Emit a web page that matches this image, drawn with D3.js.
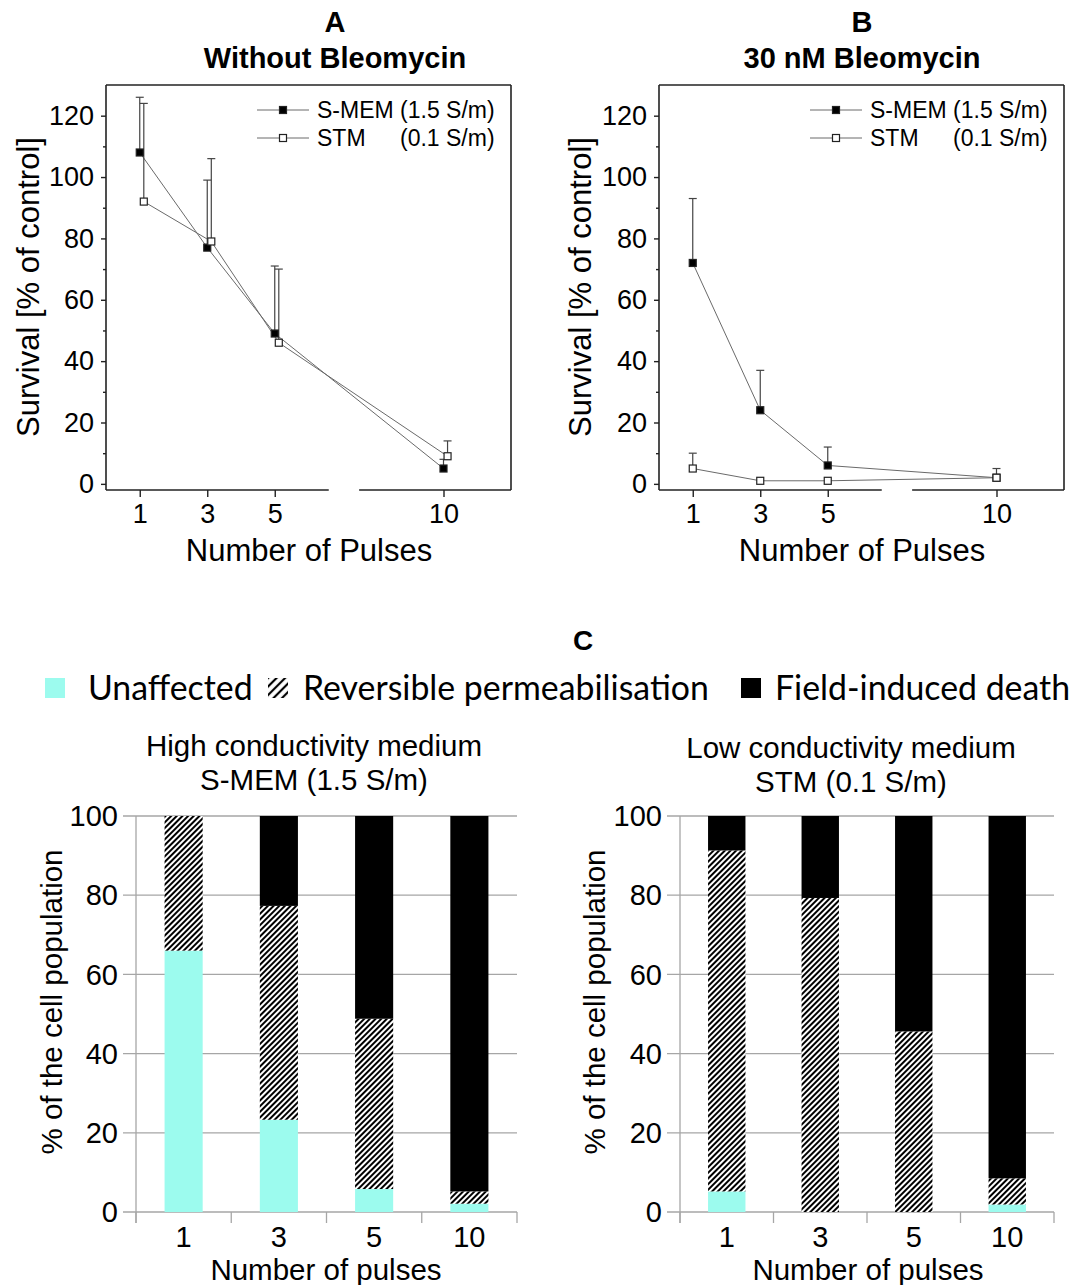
<!DOCTYPE html>
<html>
<head>
<meta charset="utf-8">
<script src="https://cdn.jsdelivr.net/npm/d3@7"></script>
<style>
  html, body { margin: 0; padding: 0; background: #fff; }
  svg { display: block; }
  text { font-family: "Liberation Sans", Arial, sans-serif; fill: #000; }
</style>
</head>
<body>
<script>
// ---------------- DATA ----------------
const pulses = [1, 3, 5, 10];

// Panel A: without bleomycin
const smemA = [108, 77, 49, 5];
const smemAErrTop = [126, 99, 71, 8];
const stmA = [92, 79, 46, 9];
const stmAErrTop = [124, 106, 70, 14];

// Panel B: 30 nM bleomycin
const smemB = [72, 24, 6, 2];
const smemBErrTop = [93, 37, 12, 5];
const stmB = [5, 1, 1, 2];
const stmBErrTop = [10, null, null, null];

const yTicksLine = [0, 20, 40, 60, 80, 100, 120];
const yMinorLine = [10, 30, 50, 70, 90, 110];

// Panel C: stacked bars
const barCategories = ["1", "3", "5", "10"];
const stackKeys = ["Unaffected", "Reversible permeabilisation", "Field-induced death"];
const highUnaffected = [66, 23.3, 5.8, 2.1];
const highReversible = [34, 54, 43, 3.1];
const highDeath = [0, 22.7, 51.2, 94.8];
const lowUnaffected = [5.2, 0, 0, 1.9];
const lowReversible = [86.1, 79.3, 45.6, 6.6];
const lowDeath = [8.7, 20.7, 54.4, 91.5];
const yTicksBar = [0, 20, 40, 60, 80, 100];

// ---------------- SVG ----------------
const W = 1084, H = 1285;
const svg = d3.select("body").append("svg").attr("width", W).attr("height", H);

const defs = svg.append("defs");
const hp = defs.append("pattern").attr("id", "hatch").attr("patternUnits", "userSpaceOnUse")
  .attr("width", 4).attr("height", 4).attr("patternTransform", "rotate(45)");
hp.append("rect").attr("width", 4).attr("height", 4).attr("fill", "#fff");
hp.append("line").attr("x1", 2).attr("y1", -1).attr("x2", 2).attr("y2", 5)
  .attr("stroke", "#000").attr("stroke-width", 2);
const hp2 = defs.append("pattern").attr("id", "hatchLeg").attr("patternUnits", "userSpaceOnUse")
  .attr("width", 6).attr("height", 6).attr("patternTransform", "rotate(45)");
hp2.append("rect").attr("width", 6).attr("height", 6).attr("fill", "#fff");
hp2.append("line").attr("x1", 3).attr("y1", -1).attr("x2", 3).attr("y2", 7)
  .attr("stroke", "#000").attr("stroke-width", 2.2);

// ---------------- LINE PANELS ----------------
function linePanel(cfg) {
  const g = svg.append("g");
  const top = 85, bottom = 490;
  const x = d3.scaleLinear().domain([0, 12]).range([cfg.left, cfg.right]);
  const y = d3.scaleLinear().domain([-2, 130]).range([bottom, top]);
  const boxColor = "#222";

  // titles
  g.append("text").attr("x", cfg.titleX).attr("y", 32).attr("text-anchor", "middle")
    .style("font-weight", "bold").style("font-size", "29px").text(cfg.letter);
  g.append("text").attr("x", cfg.titleX).attr("y", 68).attr("text-anchor", "middle")
    .style("font-weight", "bold").style("font-size", "29px").text(cfg.title);

  // box: left, top, right
  g.append("line").attr("x1", cfg.left).attr("x2", cfg.left).attr("y1", top).attr("y2", bottom)
    .attr("stroke", boxColor).attr("stroke-width", 1.6);
  g.append("line").attr("x1", cfg.left).attr("x2", cfg.right).attr("y1", top).attr("y2", top)
    .attr("stroke", boxColor).attr("stroke-width", 1.6);
  g.append("line").attr("x1", cfg.right).attr("x2", cfg.right).attr("y1", top).attr("y2", bottom)
    .attr("stroke", boxColor).attr("stroke-width", 1.6);
  // bottom axis with break
  [[0, 6.6], [7.5, 12]].forEach(([a, b]) => {
    g.append("line").attr("x1", x(a)).attr("x2", x(b)).attr("y1", bottom).attr("y2", bottom)
      .attr("stroke", boxColor).attr("stroke-width", 1.6);
  });

  // y axis ticks
  const ya = d3.axisLeft(y).tickValues(yTicksLine).tickSize(5).tickPadding(7);
  const yAxisG = g.append("g").attr("transform", `translate(${cfg.left},0)`).call(ya);
  yAxisG.select(".domain").remove();
  yAxisG.selectAll(".tick line").attr("stroke", boxColor).attr("stroke-width", 1.4);
  yAxisG.selectAll(".tick text").style("font-size", "27px").attr("fill", "#000")
    .style("font-family", '"Liberation Sans", Arial, sans-serif');
  const ym = d3.axisLeft(y).tickValues(yMinorLine).tickSize(3).tickFormat("");
  const ymG = g.append("g").attr("transform", `translate(${cfg.left},0)`).call(ym);
  ymG.select(".domain").remove();
  ymG.selectAll(".tick line").attr("stroke", boxColor).attr("stroke-width", 1.4);

  // x axis ticks
  const xa = d3.axisBottom(x).tickValues(pulses).tickSize(7).tickPadding(7);
  const xAxisG = g.append("g").attr("transform", `translate(0,${bottom})`).call(xa);
  xAxisG.select(".domain").remove();
  xAxisG.selectAll(".tick line").attr("stroke", boxColor).attr("stroke-width", 1.4);
  xAxisG.selectAll(".tick text").style("font-size", "27px").attr("fill", "#000")
    .style("font-family", '"Liberation Sans", Arial, sans-serif');

  // axis titles
  g.append("text").attr("x", cfg.xTitleX).attr("y", 561).attr("text-anchor", "middle")
    .style("font-size", "31px").text("Number of Pulses");
  g.append("text").attr("transform", `translate(${cfg.yTitleX},287) rotate(-90)`)
    .attr("text-anchor", "middle").attr("dy", "0.35em")
    .style("font-size", "31px").text("Survival [% of control]");

  // series
  const lineGen = d3.line().x(d => x(d.x)).y(d => y(d.y));
  cfg.series.forEach(s => {
    const pts = pulses.map((p, i) => ({ x: p + s.offset, y: s.values[i], e: s.err[i] }));
    g.append("path").datum(pts).attr("d", lineGen).attr("fill", "none")
      .attr("stroke", "#6a6a6a").attr("stroke-width", 1);
    pts.forEach(p => {
      if (p.e != null && p.e > p.y) {
        g.append("line").attr("x1", x(p.x)).attr("x2", x(p.x)).attr("y1", y(p.y)).attr("y2", y(p.e))
          .attr("stroke", "#444").attr("stroke-width", 1.2);
        g.append("line").attr("x1", x(p.x) - 4).attr("x2", x(p.x) + 4).attr("y1", y(p.e)).attr("y2", y(p.e))
          .attr("stroke", "#444").attr("stroke-width", 1.2);
      }
    });
  });
  cfg.series.forEach(s => {
    pulses.forEach((p, i) => {
      g.append("rect").attr("x", x(p + s.offset) - 3.5).attr("y", y(s.values[i]) - 3.5)
        .attr("width", 7).attr("height", 7)
        .attr("fill", s.filled ? "#000" : "#fff").attr("stroke", "#222").attr("stroke-width", 1.2);
    });
  });

  // legend
  const lg = g.append("g");
  cfg.series.forEach((s, i) => {
    const ly = 110 + i * 28;
    lg.append("line").attr("x1", cfg.left + 151).attr("x2", cfg.left + 203).attr("y1", ly).attr("y2", ly)
      .attr("stroke", "#6a6a6a").attr("stroke-width", 1);
    lg.append("rect").attr("x", cfg.left + 177 - 3.5).attr("y", ly - 3.5).attr("width", 7).attr("height", 7)
      .attr("fill", s.filled ? "#000" : "#fff").attr("stroke", "#222").attr("stroke-width", 1.2);
    lg.append("text").attr("x", cfg.left + 211).attr("y", ly).attr("dy", "0.35em")
      .style("font-size", "23px").text(s.name);
    if (s.name2) {
      lg.append("text").attr("x", cfg.left + 294).attr("y", ly).attr("dy", "0.35em")
        .style("font-size", "23px").text(s.name2);
    }
  });
}

linePanel({
  left: 106, right: 511, letter: "A", title: "Without Bleomycin", titleX: 335,
  xTitleX: 309, yTitleX: 28,
  series: [
    { name: "S-MEM (1.5 S/m)", values: smemA, err: smemAErrTop, filled: true, offset: 0 },
    { name: "STM", name2: "(0.1 S/m)", values: stmA, err: stmAErrTop, filled: false, offset: 0.12 }
  ]
});
linePanel({
  left: 659, right: 1064, letter: "B", title: "30 nM Bleomycin", titleX: 862,
  xTitleX: 862, yTitleX: 580,
  series: [
    { name: "S-MEM (1.5 S/m)", values: smemB, err: smemBErrTop, filled: true, offset: 0 },
    { name: "STM", name2: "(0.1 S/m)", values: stmB, err: stmBErrTop, filled: false, offset: 0 }
  ]
});

// ---------------- PANEL C ----------------
svg.append("text").attr("x", 583).attr("y", 650).attr("text-anchor", "middle")
  .style("font-size", "28px").style("font-weight", "bold").text("C");

const fills = { "Unaffected": "#9cfbee", "Reversible permeabilisation": "url(#hatch)", "Field-induced death": "#000" };

// legend row
const legItems = [
  { key: "Unaffected", sx: 45, tx: 88, target: 162, fill: "#9cfbee" },
  { key: "Reversible permeabilisation", sx: 268, tx: 303, target: 409, fill: "url(#hatchLeg)" },
  { key: "Field-induced death", sx: 741, tx: 775, target: 295, fill: "#000" }
];
const legG = svg.append("g");
const legTexts = legItems.map(it => {
  legG.append("rect").attr("x", it.sx).attr("y", 678).attr("width", 20).attr("height", 20).attr("fill", it.fill);
  return legG.append("text").attr("x", it.tx).attr("y", 700)
    .style("font-family", "Lato, 'Open Sans', sans-serif").style("font-size", "32px").text(it.key);
});
let measured = 0, target = 0;
legTexts.forEach((t, i) => { measured += t.node().getComputedTextLength(); target += legItems[i].target; });
const legSize = 32 * target / measured;
legTexts.forEach(t => t.style("font-size", legSize.toFixed(2) + "px"));

function barPanel(cfg) {
  const g = svg.append("g");
  const y = d3.scaleLinear().domain([0, 100]).range([1212, 816]);
  const x = d3.scaleBand().domain(barCategories).range([cfg.left, cfg.right])
    .paddingInner(0.6).paddingOuter(0.3);
  const grid = "#a6a6a6";

  g.append("text").attr("x", cfg.titleX).attr("y", cfg.titleY).attr("text-anchor", "middle")
    .style("font-size", "29.5px").text(cfg.title1);
  g.append("text").attr("x", cfg.titleX).attr("y", cfg.titleY + 34).attr("text-anchor", "middle")
    .style("font-size", "29.5px").text(cfg.title2);

  // gridlines (with left tick stub)
  yTicksBar.forEach(v => {
    g.append("line").attr("x1", cfg.left - 13).attr("x2", cfg.right).attr("y1", y(v)).attr("y2", y(v))
      .attr("stroke", grid).attr("stroke-width", 1.3);
  });
  // y axis line
  g.append("line").attr("x1", cfg.left).attr("x2", cfg.left).attr("y1", y(100)).attr("y2", y(0) + 11)
    .attr("stroke", grid).attr("stroke-width", 1.3);
  // category separators
  const step = x.step();
  d3.range(barCategories.length + 1).forEach(i => {
    const xx = cfg.left + i * step;
    g.append("line").attr("x1", xx).attr("x2", xx).attr("y1", y(0)).attr("y2", y(0) + 11)
      .attr("stroke", grid).attr("stroke-width", 1.3);
  });

  // y labels
  yTicksBar.forEach(v => {
    g.append("text").attr("x", cfg.left - 18).attr("y", y(v)).attr("dy", "0.35em")
      .attr("text-anchor", "end").style("font-size", "29px").text(v);
  });

  // stacked bars
  const rows = barCategories.map((c, i) => ({
    cat: c,
    "Unaffected": cfg.unaffected[i],
    "Reversible permeabilisation": cfg.reversible[i],
    "Field-induced death": cfg.death[i]
  }));
  const stacked = d3.stack().keys(stackKeys)(rows);
  stacked.forEach(layer => {
    g.append("g").selectAll("rect").data(layer).join("rect")
      .attr("x", d => x(d.data.cat)).attr("width", x.bandwidth())
      .attr("y", d => y(Math.min(100, d[1])))
      .attr("height", d => Math.max(0, y(d[0]) - y(Math.min(100, d[1]))))
      .attr("fill", fills[layer.key]);
  });

  // x labels
  barCategories.forEach(c => {
    g.append("text").attr("x", x(c) + x.bandwidth() / 2).attr("y", 1247).attr("text-anchor", "middle")
      .style("font-size", "29px").text(c);
  });
  g.append("text").attr("x", cfg.xTitleX).attr("y", 1280).attr("text-anchor", "middle")
    .style("font-size", "29.5px").text("Number of pulses");
  g.append("text").attr("transform", `translate(${cfg.yTitleX},1002) rotate(-90)`)
    .attr("text-anchor", "middle").attr("dy", "0.35em")
    .style("font-size", "29.5px").text("% of the cell population");
}

barPanel({
  left: 136, right: 517, titleX: 314, titleY: 756, xTitleX: 326, yTitleX: 52,
  title1: "High conductivity medium", title2: "S-MEM (1.5 S/m)",
  unaffected: highUnaffected, reversible: highReversible, death: highDeath
});
barPanel({
  left: 680, right: 1054, titleX: 851, titleY: 758, xTitleX: 868, yTitleX: 595,
  title1: "Low conductivity medium", title2: "STM (0.1 S/m)",
  unaffected: lowUnaffected, reversible: lowReversible, death: lowDeath
});
</script>
</body>
</html>
